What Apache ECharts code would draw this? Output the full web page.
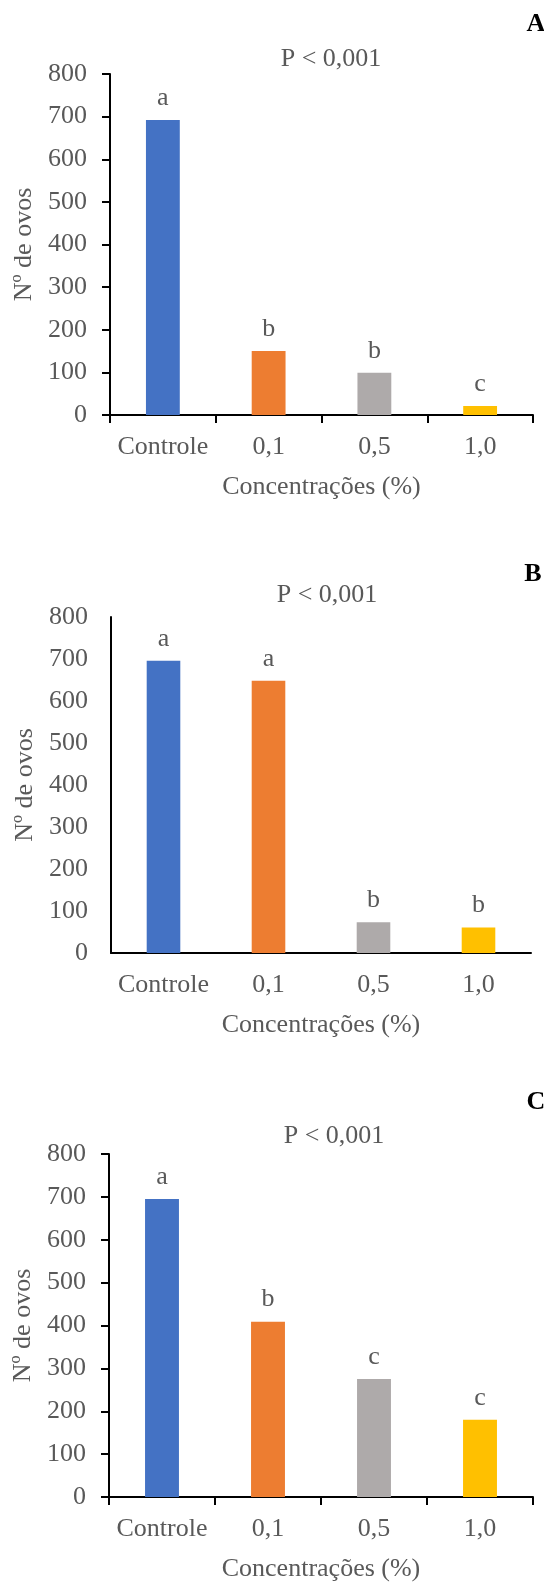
<!DOCTYPE html>
<html>
<head>
<meta charset="utf-8">
<script src="https://cdn.jsdelivr.net/npm/echarts@6/dist/echarts.min.js"></script>
<style>
html,body{margin:0;padding:0;background:#fff;}
#chart{width:544px;height:1586px;}
</style>
</head>
<body>
<div id="chart"></div>
<script>
// ---- data ----
var categories = ['Controle', '0,1', '0,5', '1,0'];
var valuesA = [692, 150, 99, 21];
var valuesB = [696, 648, 73, 61];
var valuesC = [695, 409, 275, 180];
var lettersA = ['a', 'b', 'b', 'c'];
var lettersB = ['a', 'a', 'b', 'b'];
var lettersC = ['a', 'b', 'c', 'c'];
var panelLabels = ['A', 'B', 'C'];
var titleText = 'P < 0,001';
var yAxisTitle = 'Nº de ovos';
var xAxisTitle = 'Concentrações (%)';
var barColors = ['#4472C4', '#ED7D31', '#AEAAAA', '#FFC000'];

var FONT = '"Liberation Serif", "Times New Roman", serif';
var TXT = '#595959';

var grids = [
  {left: 110, top: 74, width: 423, height: 341},
  {left: 111, top: 617, width: 420, height: 336},
  {left: 109, top: 1154, width: 424, height: 343}
];
var showTicks = [true, false, true];
var allValues = [valuesA, valuesB, valuesC];
var allLetters = [lettersA, lettersB, lettersC];
var titlePos = [{x: 326, y: 54}, {x: 322, y: 590}, {x: 329, y: 1131}];
var panelPos = [{x: 531, y: 19}, {x: 528, y: 569}, {x: 531, y: 1097}];

var option = {
  animation: false,
  backgroundColor: '#fff',
  title: [],
  grid: [],
  xAxis: [],
  yAxis: [],
  series: []
};

for (var i = 0; i < 3; i++) {
  option.grid.push(grids[i]);
  option.title.push({
    text: titleText, left: titlePos[i].x, top: titlePos[i].y,
    textAlign: 'center', textVerticalAlign: 'middle',
    textStyle: {fontFamily: FONT, fontSize: 26, fontWeight: 'normal', color: TXT}
  });
  option.title.push({
    text: panelLabels[i], left: panelPos[i].x, top: panelPos[i].y,
    textAlign: 'center', textVerticalAlign: 'middle',
    textStyle: {fontFamily: FONT, fontSize: 26, fontWeight: 'bold', color: '#000'}
  });
  option.xAxis.push({
    type: 'category', gridIndex: i, data: categories,
    axisLine: {lineStyle: {color: '#000', width: 2}},
    axisTick: {show: showTicks[i], length: 8, lineStyle: {color: '#000', width: 2}},
    axisLabel: {interval: 0, fontFamily: FONT, fontSize: 26, color: TXT, margin: 19},
    name: xAxisTitle, nameLocation: 'middle', nameGap: 59,
    nameTextStyle: {fontFamily: FONT, fontSize: 26, color: TXT}
  });
  option.yAxis.push({
    type: 'value', gridIndex: i, min: 0, max: 800, interval: 100,
    axisLine: {show: true, lineStyle: {color: '#000', width: 2}},
    axisTick: {show: showTicks[i], length: 8, lineStyle: {color: '#000', width: 2}},
    splitLine: {show: false},
    axisLabel: {fontFamily: FONT, fontSize: 26, color: TXT, margin: 23},
    name: yAxisTitle, nameLocation: 'middle', nameGap: 70, nameRotate: 90,
    nameTextStyle: {fontFamily: FONT, fontSize: 26, color: TXT}
  });
  option.series.push({
    type: 'bar', xAxisIndex: i, yAxisIndex: i,
    barWidth: '32%',
    data: allValues[i].map(function (v, k) {
      return {value: v, itemStyle: {color: barColors[k]}};
    }),
    label: {
      show: true, position: 'top', distance: 9,
      fontFamily: FONT, fontSize: 26, color: TXT,
      formatter: (function (letters) {
        return function (p) { return letters[p.dataIndex]; };
      })(allLetters[i])
    }
  });
}

var chart = echarts.init(document.getElementById('chart'), null, {renderer: 'canvas'});
chart.setOption(option);
</script>
</body>
</html>
